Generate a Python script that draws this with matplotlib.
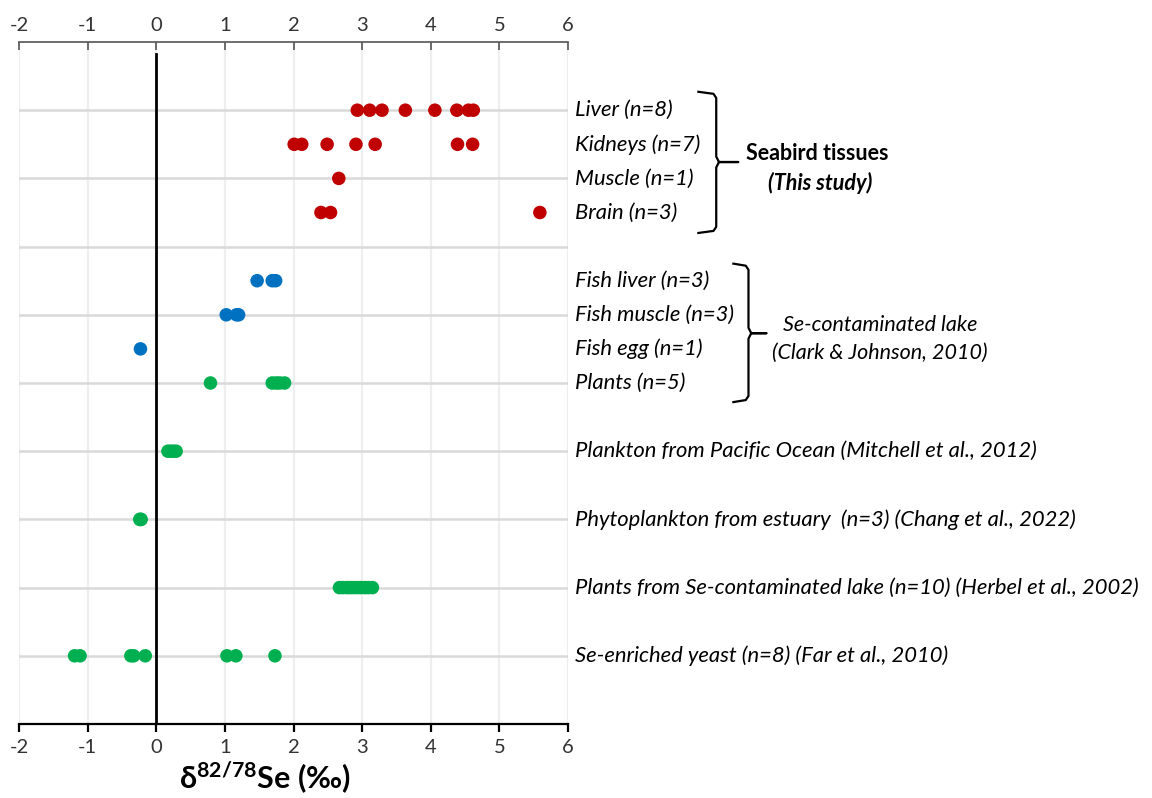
import matplotlib
matplotlib.use('Agg')
import matplotlib.pyplot as plt

# delta 82/78 Se values per sample group
liver = [2.93, 3.11, 3.29, 3.63, 4.06, 4.38, 4.55, 4.62]
kidneys = [2.01, 2.12, 2.49, 2.91, 3.19, 4.39, 4.61]
muscle = [2.66]
brain = [2.40, 2.54, 5.59]
fish_liver = [1.47, 1.69, 1.74]
fish_muscle = [1.02, 1.17, 1.20]
fish_egg = [-0.23]
plants = [0.79, 1.69, 1.75, 1.80, 1.87]
plankton = [0.17, 0.21, 0.25, 0.29]
phytoplankton = [-0.24, -0.23, -0.22]
plants_lake = [2.67, 2.72, 2.78, 2.83, 2.88, 2.93, 2.98, 3.04, 3.09, 3.15]
yeast = [-1.19, -1.11, -0.37, -0.33, -0.16, 1.03, 1.16, 1.73]

groups = [liver, kidneys, muscle, brain, fish_liver, fish_muscle, fish_egg,
          plants, plankton, phytoplankton, plants_lake, yeast]
rows = [9, 8.5, 8, 7.5, 6.5, 6, 5.5, 5, 4, 3, 2, 1]
labels = ['Liver (n=8)', 'Kidneys (n=7)', 'Muscle (n=1)', 'Brain (n=3)',
          'Fish liver (n=3)', 'Fish muscle (n=3)', 'Fish egg (n=1)', 'Plants (n=5)',
          'Plankton from Pacific Ocean (Mitchell et al., 2012)',
          'Phytoplankton from estuary  (n=3) (Chang et al., 2022)',
          'Plants from Se-contaminated lake (n=10) (Herbel et al., 2002)',
          'Se-enriched yeast (n=8) (Far et al., 2010)']
red, blue, green = '#C00000', '#0070C0', '#00B050'
colors = [red] * 4 + [blue] * 3 + [green] * 5

plt.rcParams['font.family'] = ['Lato', 'DejaVu Sans']
plt.rcParams['mathtext.fontset'] = 'custom'
plt.rcParams['mathtext.rm'] = 'Lato'
plt.rcParams['mathtext.bf'] = 'Lato:bold'
plt.rcParams['axes.unicode_minus'] = False

fig = plt.figure(figsize=(11.52, 7.98), dpi=100)
ax = fig.add_axes([19 / 1152, 74 / 798, 549 / 1152, 682 / 798])

ax.set_xlim(-2, 6)
ax.set_ylim(0, 10)

for x in range(-2, 7):
    ax.axvline(x, color='#EEEEEE', lw=1.6, zorder=0)
for y in range(1, 10):
    ax.axhline(y, color='#D9D9D9', lw=1.8, zorder=0)
ax.axvline(0, ymax=0.982, color='black', lw=2, zorder=1)

for vals, row, c in zip(groups, rows, colors):
    ax.scatter(vals, [row] * len(vals), s=95, color=c, edgecolors='none', zorder=3)

for lab, row in zip(labels, rows):
    ax.text(6.1, row, lab, style='italic', fontsize=15.8, va='center', ha='left',
            color='black', clip_on=False)

# curly brackets
def bracket(x0, left, tip, top, bottom, mid):
    xs = [left, x0 - 0.04, x0, x0, x0 + 0.04, tip, x0 + 0.04, x0, x0, x0 - 0.04, left]
    ys = [top + 0.03, top, top - 0.06, mid + 0.08, mid, mid, mid, mid - 0.08,
          bottom + 0.06, bottom, bottom - 0.03]
    ax.plot(xs, ys, color='black', lw=1.6, clip_on=False, solid_joinstyle='round')

bracket(8.16, 7.90, 8.48, 9.24, 7.23, 8.24)
bracket(8.63, 8.41, 8.89, 6.72, 4.75, 5.73)

ax.text(9.63, 8.36, 'Seabird tissues', fontsize=15.5, fontweight='bold',
        ha='center', va='center', clip_on=False)
ax.text(9.68, 7.93, '(This study)', fontsize=15.5, fontweight='bold', style='italic',
        ha='center', va='center', clip_on=False)
ax.text(10.55, 5.85, 'Se-contaminated lake', fontsize=15.5, style='italic',
        ha='center', va='center', clip_on=False)
ax.text(10.55, 5.44, '(Clark & Johnson, 2010)', fontsize=15.5, style='italic',
        ha='center', va='center', clip_on=False)

for s in ['left', 'right', 'top']:
    ax.spines[s].set_visible(False)
ax.spines['bottom'].set_color('black')
ax.spines['bottom'].set_linewidth(1.6)
ax.set_yticks([])
ax.set_xticks(range(-2, 7))
ax.tick_params(axis='x', direction='out', length=6, width=1.6, color='black',
               labelsize=14.5, labelcolor='#333333', pad=5)

top = ax.secondary_xaxis('top')
top.set_xticks(range(-2, 7))
top.spines['top'].set_color('#555555')
top.spines['top'].set_linewidth(1.2)
top.tick_params(axis='x', direction='in', length=6, width=1.2, color='#555555',
                labelsize=14.5, labelcolor='#333333', pad=6)

ax.set_xlabel(r'δ$^{\mathbf{82/78}}$Se (‰)', fontsize=22, fontweight='bold')
ax.xaxis.set_label_coords(0.448, -0.105)
ax.xaxis.label.set_va('bottom')

fig.savefig('out.png', dpi=100)
